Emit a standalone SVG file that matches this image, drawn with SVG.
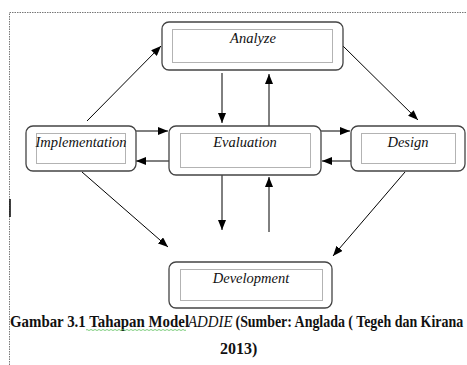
<svg xmlns="http://www.w3.org/2000/svg" width="467" height="365" viewBox="0 0 467 365">
  <defs>
    <marker id="arrow" viewBox="0 0 10 8" refX="10" refY="4" markerWidth="10" markerHeight="8" markerUnits="userSpaceOnUse" orient="auto">
      <path d="M0,0 L10,4 L0,8 Z" fill="#000"/>
    </marker>
  </defs>
  <style>
    .frame { fill: none; stroke: #777; stroke-width: 1; stroke-dasharray: 1.5 1; }
    .box { fill: #fff; stroke: #444; stroke-width: 1.3; }
    .inner { fill: none; stroke: #555; stroke-width: 0.9; stroke-dasharray: 1 1; }
    .label { font-family: "Liberation Serif", "Times New Roman", serif; font-style: italic; font-size: 14.5px; fill: #111; text-anchor: middle; }
    .conn line { stroke: #000; stroke-width: 1; marker-end: url(#arrow); }
    .caption { font-family: "Liberation Serif", "Times New Roman", serif; font-weight: bold; font-size: 16px; fill: #111; }
    .caption-em { font-family: "Liberation Serif", "Times New Roman", serif; font-style: italic; font-size: 16px; fill: #111; }
  </style>
  <rect width="467" height="365" fill="#fff"/>

  <!-- page frame -->
  <path class="frame" d="M9.5,365 L9.5,12.5 L467,12.5"/>
  <line x1="10" y1="199" x2="10" y2="217" stroke="#111" stroke-width="1.6"/>

  <!-- connectors -->
  <g id="connectors" class="conn">
    <line x1="87" y1="121" x2="161" y2="46"/>
    <line x1="343" y1="46" x2="418" y2="120"/>
    <line x1="222" y1="73" x2="222" y2="123"/>
    <line x1="269" y1="126" x2="269" y2="74"/>
    <line x1="136" y1="131" x2="168" y2="131"/>
    <line x1="169" y1="161" x2="136" y2="161"/>
    <line x1="321" y1="131" x2="350" y2="131"/>
    <line x1="351" y1="161" x2="322" y2="161"/>
    <line x1="82" y1="172" x2="168" y2="247"/>
    <line x1="405" y1="172" x2="333" y2="256"/>
    <line x1="222" y1="175" x2="222" y2="230"/>
    <line x1="269" y1="232" x2="269" y2="177"/>
  </g>

  <!-- nodes -->
  <g id="analyze">
    <rect class="box" x="162" y="22" width="181" height="48" rx="7"/>
    <rect class="inner" x="172.5" y="29.5" width="160" height="33"/>
    <text class="label" x="253" y="43">Analyze</text>
  </g>
  <g id="implementation">
    <rect class="box" x="26" y="126" width="110" height="45" rx="7"/>
    <rect class="inner" x="36.5" y="133.5" width="89" height="30"/>
    <text class="label" x="81" y="147">Implementation</text>
  </g>
  <g id="evaluation">
    <rect class="box" x="169" y="126" width="152" height="49" rx="7"/>
    <rect class="inner" x="180.5" y="133.5" width="130" height="34"/>
    <text class="label" x="245" y="147">Evaluation</text>
  </g>
  <g id="design">
    <rect class="box" x="351" y="126" width="114" height="45" rx="7"/>
    <rect class="inner" x="361.5" y="133.5" width="94" height="30"/>
    <text class="label" x="408" y="147">Design</text>
  </g>
  <g id="development">
    <rect class="box" x="169" y="262" width="163" height="46" rx="7"/>
    <rect class="inner" x="180.5" y="269.5" width="142" height="31"/>
    <text class="label" x="251" y="283">Development</text>
  </g>

  <!-- caption (horizontally condensed, as set in the document) -->
  <text class="caption" transform="translate(10,327) scale(0.93,1)">Gambar 3.1 Tahapan  Model</text>
  <text class="caption-em" transform="translate(188,327) scale(0.93,1)">ADDIE</text>
  <text class="caption" transform="translate(235.5,327) scale(0.87,1)">(Sumber: Anglada ( Tegeh dan Kirana</text>
  <path d="M86,330 q1,-1 2,0 t2,0 t2,0 t2,0 t2,0 t2,0 t2,0 t2,0 t2,0 t2,0 t2,0 t2,0 t2,0 t2,0 t2,0 t2,0 t2,0 t2,0 t2,0 t2,0 t2,0 t2,0 t2,0 t2,0 t2,0 t2,0 t2,0 t2,0 t2,0 t2,0 t2,0 t2,0 t2,0 t2,0 t2,0 t2,0 t2,0 t2,0 t2,0 t2,0 t2,0 t2,0 t2,0 t2,0 t2,0 t2,0 t2,0 t2,0 t2,0 t2,0" fill="none" stroke="#5bbf5b" stroke-width="0.8"/>
  <text class="caption" x="220" y="354">2013)</text>
</svg>
